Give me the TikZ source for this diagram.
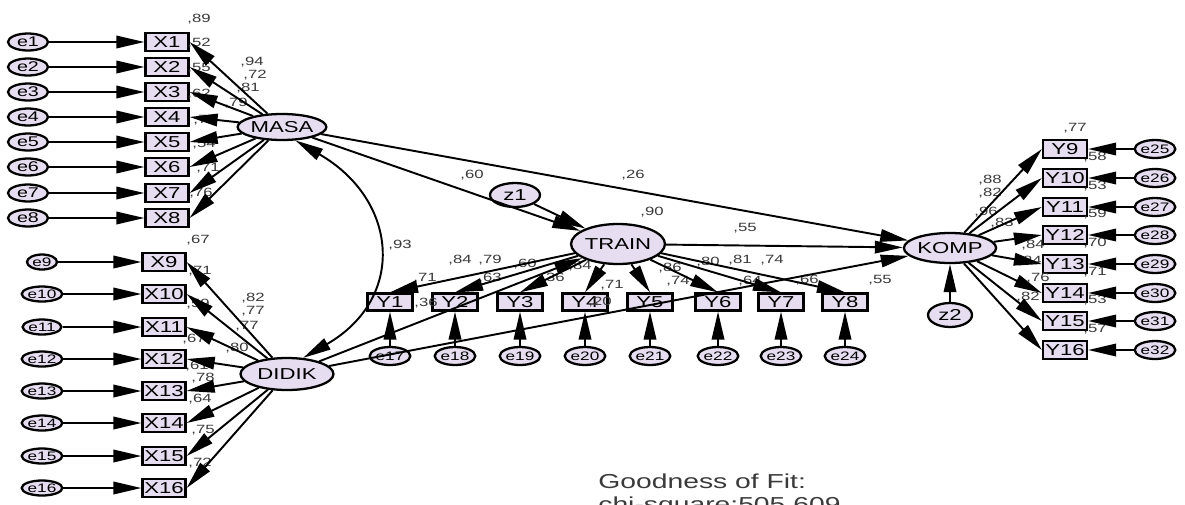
\documentclass[tikz,border=0pt]{standalone}
\usepackage{fontspec}
\setmainfont{Liberation Sans}[FakeStretch=1.4]
\usepackage{tikz}
\usetikzlibrary{arrows.meta,shapes.geometric}
\definecolor{boxfill}{HTML}{E6DEF0}
\definecolor{labgray}{HTML}{3A3A3A}

\begin{document}
\begin{tikzpicture}[
     x=0.02cm, y=-0.02cm,
ObsBox/.style={draw, line width=1.3pt, fill=boxfill, minimum width=0.86cm,
               minimum height=0.36cm, inner sep=0pt, font=\fontsize{9}{10}\selectfont},
LatEll/.style={ellipse, draw, line width=1.3pt, fill=boxfill, inner sep=0pt,
               font=\fontsize{9}{10}\selectfont},
ErrEll/.style={ellipse, draw, line width=1.3pt, fill=boxfill, minimum width=0.8cm,
               minimum height=0.34cm, inner sep=0pt, font=\fontsize{8}{9}\selectfont},
ParLab/.style={inner sep=0pt, text=labgray, font=\fontsize{6.8}{7}\selectfont},
FitText/.style={inner sep=0pt, anchor=base west, text=labgray, font=\fontsize{11.5}{12}\selectfont},
Path/.style={line width=1.1pt, -{Triangle[length=0.56cm, width=0.25cm]}},
Cov/.style={line width=1.1pt, {Triangle[length=0.56cm, width=0.25cm]}-{Triangle[length=0.56cm, width=0.25cm]}},
  ]
\useasboundingbox (0,0) rectangle (1185,504);
% MASA block
\node [ErrEll] (e1) at (28,42) {e1};
\node [ErrEll] (e2) at (28,67) {e2};
\node [ErrEll] (e3) at (28,92) {e3};
\node [ErrEll] (e4) at (28,117) {e4};
\node [ErrEll] (e5) at (28,142) {e5};
\node [ErrEll] (e6) at (28,167) {e6};
\node [ErrEll] (e7) at (28,193) {e7};
\node [ErrEll] (e8) at (28,218) {e8};
\node [ObsBox] (X1) at (167,42) {X1};
\node [ObsBox] (X2) at (167,67) {X2};
\node [ObsBox] (X3) at (167,92) {X3};
\node [ObsBox] (X4) at (167,117) {X4};
\node [ObsBox] (X5) at (167,142) {X5};
\node [ObsBox] (X6) at (167,167) {X6};
\node [ObsBox] (X7) at (167,193) {X7};
\node [ObsBox] (X8) at (167,218) {X8};
\node [LatEll, minimum width=1.74cm, minimum height=0.52cm] (MASA) at (282,127) {MASA};
% DIDIK block
\begin{scope}[ErrEll/.append style={minimum width=0.6cm, minimum height=0.3cm, font=\fontsize{7}{8}\selectfont}]
\node [ErrEll] (e9) at (42,262) {e9};
\node [ErrEll] (e10) at (42,294) {e10};
\node [ErrEll] (e11) at (42,327) {e11};
\node [ErrEll] (e12) at (42,359) {e12};
\node [ErrEll] (e13) at (42,391) {e13};
\node [ErrEll] (e14) at (42,423) {e14};
\node [ErrEll] (e15) at (42,456) {e15};
\node [ErrEll] (e16) at (42,488) {e16};
\end{scope}
\node [ObsBox] (X9) at (164,262) {X9};
\node [ObsBox] (X10) at (164,294) {X10};
\node [ObsBox] (X11) at (164,327) {X11};
\node [ObsBox] (X12) at (164,359) {X12};
\node [ObsBox] (X13) at (164,391) {X13};
\node [ObsBox] (X14) at (164,423) {X14};
\node [ObsBox] (X15) at (164,456) {X15};
\node [ObsBox] (X16) at (164,488) {X16};
\node [LatEll, minimum width=1.86cm, minimum height=0.64cm] (DIDIK) at (287,374) {DIDIK};
% TRAIN block
\node [LatEll, minimum width=1.0cm, minimum height=0.48cm] (z1) at (515,195) {z1};
\node [LatEll, minimum width=1.86cm, minimum height=0.8cm] (TRAIN) at (618,244) {TRAIN};
\begin{scope}[ObsBox/.append style={minimum width=0.9cm, minimum height=0.34cm},
              ErrEll/.append style={minimum width=0.64cm, minimum height=0.36cm, font=\fontsize{7}{8}\selectfont}]
\node [ObsBox] (Y1) at (390,302) {Y1};
\node [ObsBox] (Y2) at (455,302) {Y2};
\node [ObsBox] (Y3) at (520,302) {Y3};
\node [ObsBox] (Y4) at (585,302) {Y4};
\node [ObsBox] (Y5) at (650,302) {Y5};
\node [ObsBox] (Y6) at (718,302) {Y6};
\node [ObsBox] (Y7) at (781,302) {Y7};
\node [ObsBox] (Y8) at (845,302) {Y8};
\node [ErrEll] (e17) at (390,356) {e17};
\node [ErrEll] (e18) at (455,356) {e18};
\node [ErrEll] (e19) at (520,356) {e19};
\node [ErrEll] (e20) at (585,356) {e20};
\node [ErrEll] (e21) at (650,356) {e21};
\node [ErrEll] (e22) at (718,356) {e22};
\node [ErrEll] (e23) at (781,356) {e23};
\node [ErrEll] (e24) at (845,356) {e24};
\end{scope}
% KOMP block
\node [LatEll, minimum width=1.7cm, minimum height=0.6cm] (KOMP) at (950,248) {KOMP};
\node [LatEll, minimum width=0.88cm, minimum height=0.48cm] (z2) at (950,315) {z2};
\begin{scope}[ObsBox/.append style={minimum width=0.88cm},
              ErrEll/.append style={minimum width=0.72cm, minimum height=0.36cm, font=\fontsize{7}{8}\selectfont}]
\node [ObsBox] (Y9) at (1065,149) {Y9};
\node [ObsBox] (Y10) at (1065,178) {Y10};
\node [ObsBox] (Y11) at (1065,207) {Y11};
\node [ObsBox] (Y12) at (1065,235) {Y12};
\node [ObsBox] (Y13) at (1065,264) {Y13};
\node [ObsBox] (Y14) at (1065,293) {Y14};
\node [ObsBox] (Y15) at (1065,321) {Y15};
\node [ObsBox] (Y16) at (1065,350) {Y16};
\node [ErrEll] (e25) at (1155,149) {e25};
\node [ErrEll] (e26) at (1155,178) {e26};
\node [ErrEll] (e27) at (1155,207) {e27};
\node [ErrEll] (e28) at (1155,235) {e28};
\node [ErrEll] (e29) at (1155,264) {e29};
\node [ErrEll] (e30) at (1155,293) {e30};
\node [ErrEll] (e31) at (1155,321) {e31};
\node [ErrEll] (e32) at (1155,350) {e32};
\end{scope}
% estimates
\node [ParLab] (rX1) at (199,19) {,89};
\node [ParLab] (rX2) at (199,43) {,52};
\node [ParLab] (rX3) at (199,68) {,55};
\node [ParLab] (rX4) at (199,94) {,62};
\node [ParLab] (rX5) at (205,120) {,77};
\node [ParLab] (rX6) at (204,144) {,54};
\node [ParLab] (rX7) at (208,168) {,71};
\node [ParLab] (rX8) at (201,193) {,76};
\node [ParLab] (lX1) at (252,62) {,94};
\node [ParLab] (lX2) at (255,75) {,72};
\node [ParLab] (lX3) at (248,88) {,81};
\node [ParLab] (lX4) at (236,103) {,79};
\node [ParLab] (rX9) at (198,240) {,67};
\node [ParLab] (rX10) at (200,271) {,71};
\node [ParLab] (rX11) at (198,304) {,59};
\node [ParLab] (rX12) at (194,339) {,67};
\node [ParLab] (rX13) at (197,366) {,61};
\node [ParLab] (rX14) at (200,399) {,64};
\node [ParLab] (rX15) at (203,430) {,75};
\node [ParLab] (rX16) at (200,463) {,72};
\node [ParLab] (lX9) at (253,298) {,82};
\node [ParLab] (lX10) at (253,311) {,77};
\node [ParLab] (lX11) at (247,326) {,77};
\node [ParLab] (lX12) at (237,348) {,80};
\node [ParLab] (lX13) at (203,378) {,78};
\node [ParLab] (bMT) at (472,175) {,60};
\node [ParLab] (bMK) at (633,175) {,26};
\node [ParLab] (rTR) at (652,212) {,90};
\node [ParLab] (cMD) at (400,245) {,93};
\node [ParLab] (bTK) at (745,228) {,55};
\node [ParLab] (bDT) at (426,303) {,36};
\node [ParLab] (bDK) at (600,302) {,20};
\node [ParLab] (lY1) at (460,260) {,84};
\node [ParLab] (lY2) at (490,260) {,79};
\node [ParLab] (lY3) at (525,264) {,60};
\node [ParLab] (lY4) at (580,266) {,84};
\node [ParLab] (lY5) at (670,268) {,86};
\node [ParLab] (lY6) at (708,262) {,80};
\node [ParLab] (lY7) at (740,260) {,81};
\node [ParLab] (lY8) at (772,260) {,74};
\node [ParLab] (rY1) at (425,278) {,71};
\node [ParLab] (rY2) at (490,278) {,63};
\node [ParLab] (rY3) at (553,278) {,36};
\node [ParLab] (rY4) at (612,285) {,71};
\node [ParLab] (rY5) at (678,281) {,74};
\node [ParLab] (rY6) at (750,281) {,64};
\node [ParLab] (rY7) at (807,280) {,66};
\node [ParLab] (rY8) at (880,280) {,55};
\node [ParLab] (rY9) at (1075,128) {,77};
\node [ParLab] (rY10) at (1095,157) {,58};
\node [ParLab] (rY11) at (1095,186) {,53};
\node [ParLab] (rY12) at (1095,214) {,59};
\node [ParLab] (rY13) at (1095,243) {,70};
\node [ParLab] (rY14) at (1095,272) {,71};
\node [ParLab] (rY15) at (1095,300) {,53};
\node [ParLab] (rY16) at (1095,329) {,57};
\node [ParLab] (lY9) at (990,180) {,88};
\node [ParLab] (lY10) at (990,193) {,82};
\node [ParLab] (lY11) at (986,212) {,96};
\node [ParLab] (lY12) at (1002,223) {,83};
\node [ParLab] (lY13) at (1033,245) {,84};
\node [ParLab] (lY14) at (1030,261) {,84};
\node [ParLab] (lY15) at (1038,278) {,76};
\node [ParLab] (lY16) at (1028,297) {,82};
\node [FitText] (fit) at (598,488) {Goodness of Fit:};
\node [FitText] (chi) at (598,511) {chi-square:505,609};
% errors into indicators
\draw[Path] (e1) -- (X1);
\draw[Path] (e2) -- (X2);
\draw[Path] (e3) -- (X3);
\draw[Path] (e4) -- (X4);
\draw[Path] (e5) -- (X5);
\draw[Path] (e6) -- (X6);
\draw[Path] (e7) -- (X7);
\draw[Path] (e8) -- (X8);
\draw[Path] (e9) -- (X9);
\draw[Path] (e10) -- (X10);
\draw[Path] (e11) -- (X11);
\draw[Path] (e12) -- (X12);
\draw[Path] (e13) -- (X13);
\draw[Path] (e14) -- (X14);
\draw[Path] (e15) -- (X15);
\draw[Path] (e16) -- (X16);
\draw[Path] (e17) -- (Y1);
\draw[Path] (e18) -- (Y2);
\draw[Path] (e19) -- (Y3);
\draw[Path] (e20) -- (Y4);
\draw[Path] (e21) -- (Y5);
\draw[Path] (e22) -- (Y6);
\draw[Path] (e23) -- (Y7);
\draw[Path] (e24) -- (Y8);
\draw[Path] (e25) -- (Y9);
\draw[Path] (e26) -- (Y10);
\draw[Path] (e27) -- (Y11);
\draw[Path] (e28) -- (Y12);
\draw[Path] (e29) -- (Y13);
\draw[Path] (e30) -- (Y14);
\draw[Path] (e31) -- (Y15);
\draw[Path] (e32) -- (Y16);
% loadings
\draw[Path] (MASA) -- (X1.east);
\draw[Path] (MASA) -- (X2.east);
\draw[Path] (MASA) -- (X3.east);
\draw[Path] (MASA) -- (X4.east);
\draw[Path] (MASA) -- (X5.east);
\draw[Path] (MASA) -- (X6.east);
\draw[Path] (MASA) -- (X7.east);
\draw[Path] (MASA) -- (X8.east);
\draw[Path] (DIDIK) -- (X9.east);
\draw[Path] (DIDIK) -- (X10.east);
\draw[Path] (DIDIK) -- (X11.east);
\draw[Path] (DIDIK) -- (X12.east);
\draw[Path] (DIDIK) -- (X13.east);
\draw[Path] (DIDIK) -- (X14.east);
\draw[Path] (DIDIK) -- (X15.east);
\draw[Path] (DIDIK) -- (X16.east);
\draw[Path] (TRAIN) -- (Y1.north);
\draw[Path] (TRAIN) -- (Y2.north);
\draw[Path] (TRAIN) -- (Y3.north);
\draw[Path] (TRAIN) -- (Y4.north);
\draw[Path] (TRAIN) -- (Y5.north);
\draw[Path] (TRAIN) -- (Y6.north);
\draw[Path] (TRAIN) -- (Y7.north);
\draw[Path] (TRAIN) -- (Y8.north);
\draw[Path] (KOMP) -- (Y9.west);
\draw[Path] (KOMP) -- (Y10.west);
\draw[Path] (KOMP) -- (Y11.west);
\draw[Path] (KOMP) -- (Y12.west);
\draw[Path] (KOMP) -- (Y13.west);
\draw[Path] (KOMP) -- (Y14.west);
\draw[Path] (KOMP) -- (Y15.west);
\draw[Path] (KOMP) -- (Y16.west);
% structural paths
\draw[Path] (MASA) -- (TRAIN);
\draw[Path] (MASA) -- (KOMP);
\draw[Path] (DIDIK) -- (TRAIN);
\draw[Path] (DIDIK) -- (KOMP);
\draw[Path] (TRAIN) -- (KOMP);
\draw[Path] (z1) -- (TRAIN);
\draw[Path] (z2) -- (KOMP);
\draw[Cov] (MASA.-45) to[out=-30, in=30, looseness=1.4] (DIDIK.45);
\end{tikzpicture}
\end{document}
